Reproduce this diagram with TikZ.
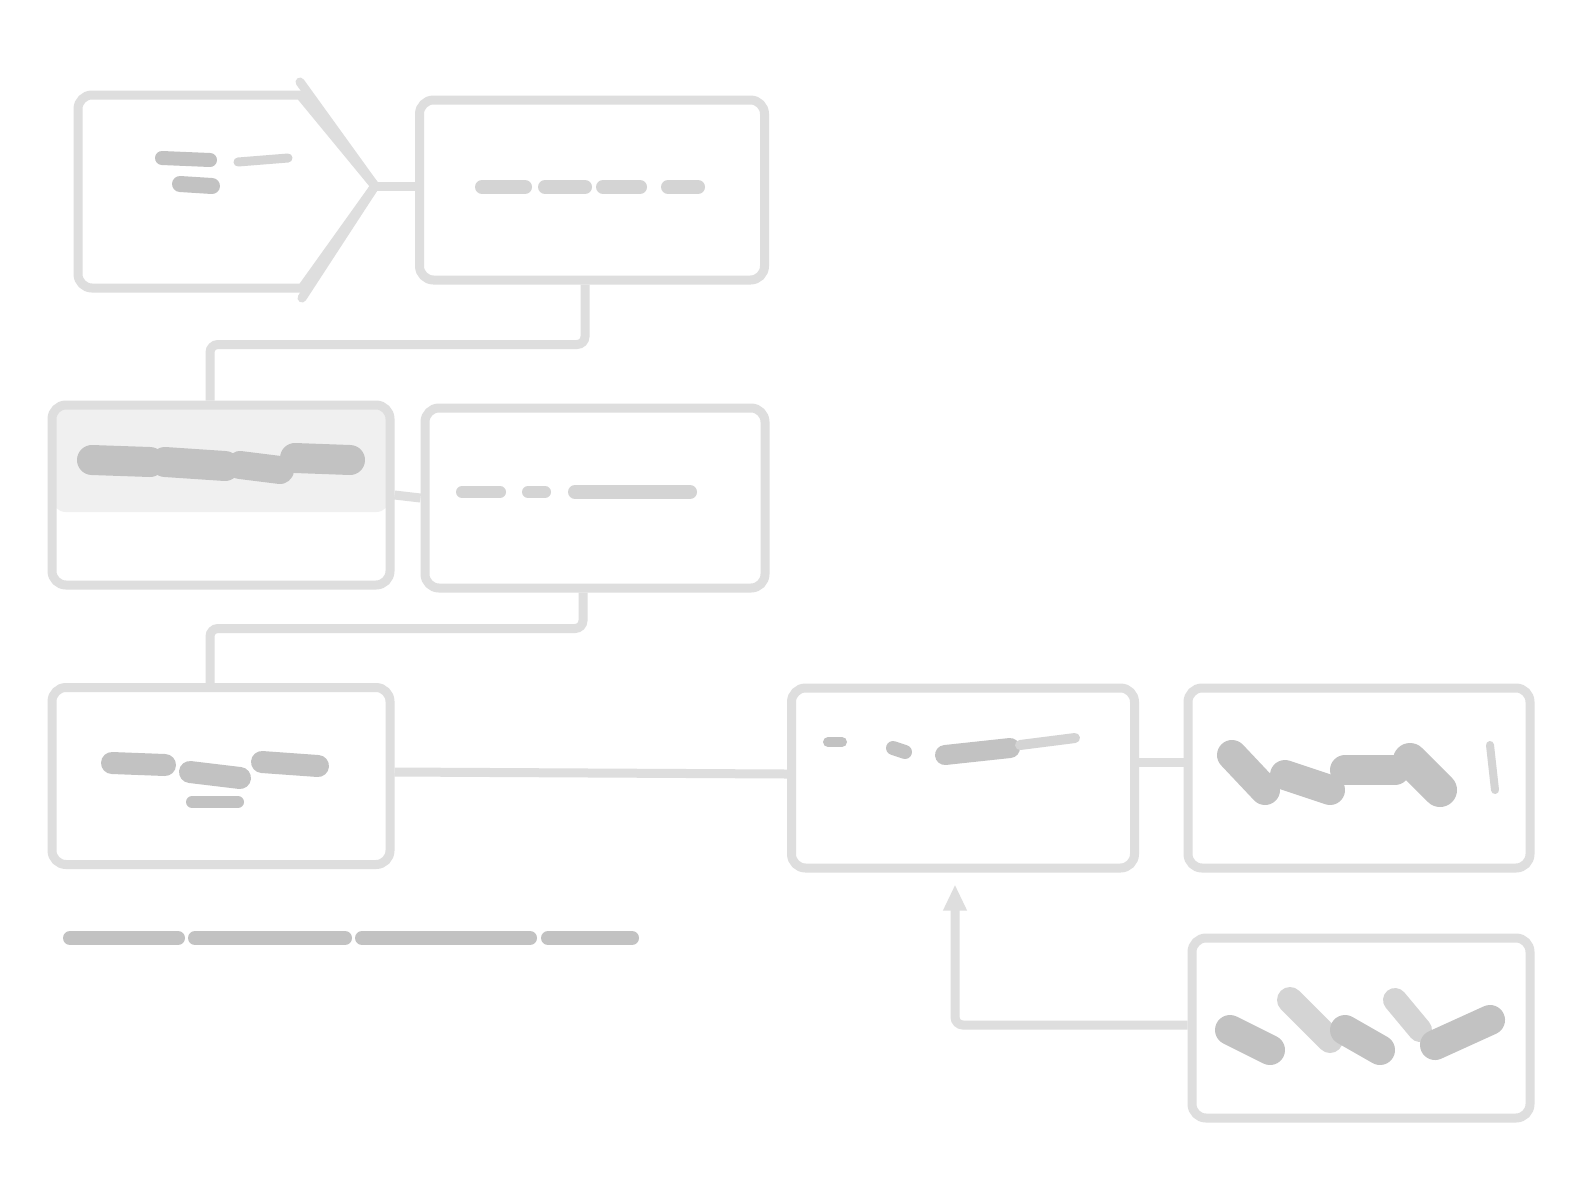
\documentclass[tikz,border=0pt]{standalone}
\usetikzlibrary{arrows.meta}
\begin{document}
\begin{tikzpicture}[x=1pt,y=-1pt,
  box/.style={draw=black!13, line width=9pt, rounded corners=14pt, minimum width=340pt, minimum height=180pt, inner sep=0pt},
  wire/.style={draw=black!13, line width=9pt, rounded corners=8pt},
  blob/.style={draw=black!24, line width=#1, line cap=round},
  lblob/.style={draw=black!17, line width=#1, line cap=round}]
\useasboundingbox[fill=white] (0,0) rectangle (1573,1200);
% pentagon box A
\draw[box] (300,95) [rounded corners=14pt] -- (78,95) -- (78,288) [sharp corners] -- (302,288) -- (375,186) -- cycle;
\draw[draw=black!13, line width=9pt, line cap=round] (375,186) -- (300,82);
\draw[draw=black!13, line width=9pt, line cap=round] (375,186) -- (302,298);
\coordinate (A) at (375,186);
% rectangular boxes
\node[box, minimum width=345pt] (B) at (592,190) {};
\fill[black!6, rounded corners=14pt] (52,405) rectangle (390,512);
\node[box, minimum width=338pt] (C) at (221,495) {};
\node[box] (D) at (595,498) {};
\node[box, minimum width=338pt, minimum height=177pt] (E) at (221,776) {};
\node[box, minimum width=343pt] (F) at (963,778) {};
\node[box, minimum width=342pt] (G) at (1359,778) {};
\node[box, minimum width=338pt] (H) at (1361,1028) {};
% connectors
\draw[wire] (A) -- (A -| B.west);
\draw[wire] ([xshift=-7pt]B.south) -- ++(0,60) -| ([xshift=-11pt]C.north);
\draw[wire] (C.east) -- (D.west);
\draw[wire] ([xshift=-12pt]D.south) -- ++(0,36) -| ([xshift=-11pt]E.north);
\draw[wire] ([yshift=4pt]E.east) -- ([yshift=4pt]F.west);
\draw[wire] ([yshift=16pt]F.east) -- ([yshift=16pt]G.west);
\draw[wire, shorten >=12pt, -{Triangle[length=26pt,width=22pt]}] ([yshift=3pt]H.west) -| ([xshift=-8pt]F.south);
% illegible text (drawn as marks)
\draw[blob=14pt] (162,158) -- (210,160);
\draw[blob=16pt] (180,184) -- (212,186);
\draw[lblob=9pt] (238,162) -- (288,158);
\draw[lblob=14pt] (482,187) -- (525,187);
\draw[lblob=14pt] (545,187) -- (585,187);
\draw[lblob=14pt] (603,187) -- (640,187);
\draw[lblob=14pt] (668,187) -- (698,187);
\draw[blob=30pt] (92,460) -- (150,462);
\draw[blob=30pt] (165,462) -- (225,466);
\draw[blob=28pt] (240,465) -- (280,470);
\draw[blob=30pt] (295,458) -- (350,460);
\draw[lblob=12pt] (462,492) -- (500,492);
\draw[lblob=12pt] (528,492) -- (545,492);
\draw[lblob=14pt] (575,492) -- (690,492);
\draw[blob=22pt] (112,763) -- (165,765);
\draw[blob=22pt] (190,772) -- (240,778);
\draw[blob=22pt] (262,762) -- (318,766);
\draw[blob=12pt] (192,802) -- (238,802);
\draw[blob=10pt] (828,742) -- (842,742);
\draw[blob=14pt] (893,748) -- (905,752);
\draw[blob=20pt] (945,755) -- (1010,748);
\draw[lblob=10pt] (1020,745) -- (1075,738);
\draw[blob=30pt] (1232,755) -- (1265,790);
\draw[blob=30pt] (1285,775) -- (1330,790);
\draw[blob=30pt] (1345,770) -- (1395,770);
\draw[blob=34pt] (1410,760) -- (1440,790);
\draw[lblob=8pt] (1490,745) -- (1495,790);
\draw[blob=30pt] (1230,1030) -- (1270,1050);
\draw[lblob=26pt] (1290,1000) -- (1330,1040);
\draw[blob=30pt] (1345,1030) -- (1380,1050);
\draw[lblob=24pt] (1395,1000) -- (1420,1030);
\draw[blob=30pt] (1435,1045) -- (1490,1020);
\draw[blob=14pt] (70,938) -- (178,938);
\draw[blob=14pt] (195,938) -- (345,938);
\draw[blob=14pt] (362,938) -- (530,938);
\draw[blob=14pt] (548,938) -- (632,938);
\end{tikzpicture}
\end{document}
